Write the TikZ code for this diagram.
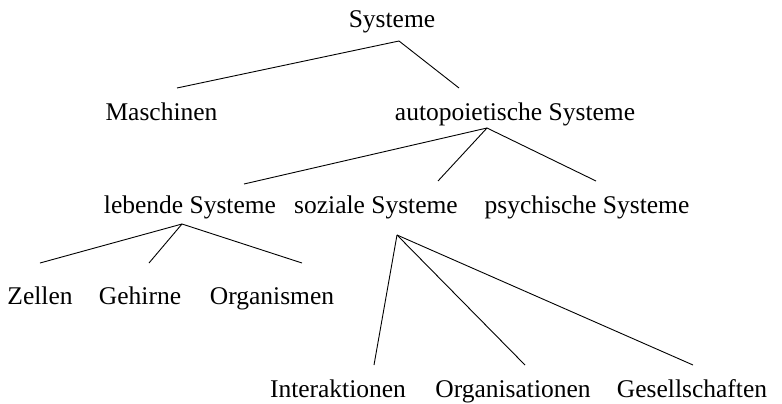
\documentclass[tikz,border=0pt]{standalone}
\usepackage{fontspec}
\setmainfont{Liberation Serif}
\usetikzlibrary{positioning}

\begin{document}
\begin{tikzpicture}[x=1pt,y=-1pt,line width=0.9pt,node distance=90pt,on grid,
    every node/.style={inner sep=0pt,text height=19pt,text depth=6.5pt,
      font=\fontsize{25.5pt}{30pt}\selectfont}]
  \useasboundingbox (0,0) rectangle (782,404);
  \node[anchor=base] (sys) at (392,28) {Systeme};
  \node (masch) [below left=92pt and 230.5pt of sys] {Maschinen};
  \node (auto) [below right=92pt and 123pt of sys] {autopoietische Systeme};
  \node (leb) [below left=93pt and 325pt of auto] {lebende Systeme};
  \node (soz) [right=186pt of leb] {soziale Systeme};
  \node (psy) [right=211pt of soz] {psychische Systeme};
  \node (zel) [below left=91pt and 150pt of leb] {Zellen};
  \node (geh) [right=100pt of zel] {Gehirne};
  \node (org) [right=132pt of geh] {Organismen};
  \node (inter) [below left=184pt and 38pt of soz] {Interaktionen};
  \node (orga) [right=175pt of inter] {Organisationen};
  \node (ges) [right=179pt of orga] {Gesellschaften};
  \path
  ([shift={(7,13)}]sys.base) edge ([shift={(15.5,-32)}]masch.base)
  ([shift={(7,13)}]sys.base) edge ([shift={(-56,-32)}]auto.base)
  ([shift={(-28,8)}]auto.base) edge ([shift={(54,-29)}]leb.base)
  ([shift={(-28,8)}]auto.base) edge ([shift={(62,-32)}]soz.base)
  ([shift={(-28,8)}]auto.base) edge ([shift={(9,-32)}]psy.base)
  ([shift={(-8,11)}]leb.base) edge ([shift={(0,-41)}]zel.base)
  ([shift={(-8,11)}]leb.base) edge ([shift={(9,-41)}]geh.base)
  ([shift={(-8,11)}]leb.base) edge ([shift={(30,-41)}]org.base)
  ([shift={(21,22)}]soz.base) edge ([shift={(36,-32)}]inter.base)
  ([shift={(21,22)}]soz.base) edge ([shift={(12,-32)}]orga.base)
  ([shift={(21,22)}]soz.base) edge ([shift={(1,-32)}]ges.base)
  ;
\end{tikzpicture}
\end{document}
